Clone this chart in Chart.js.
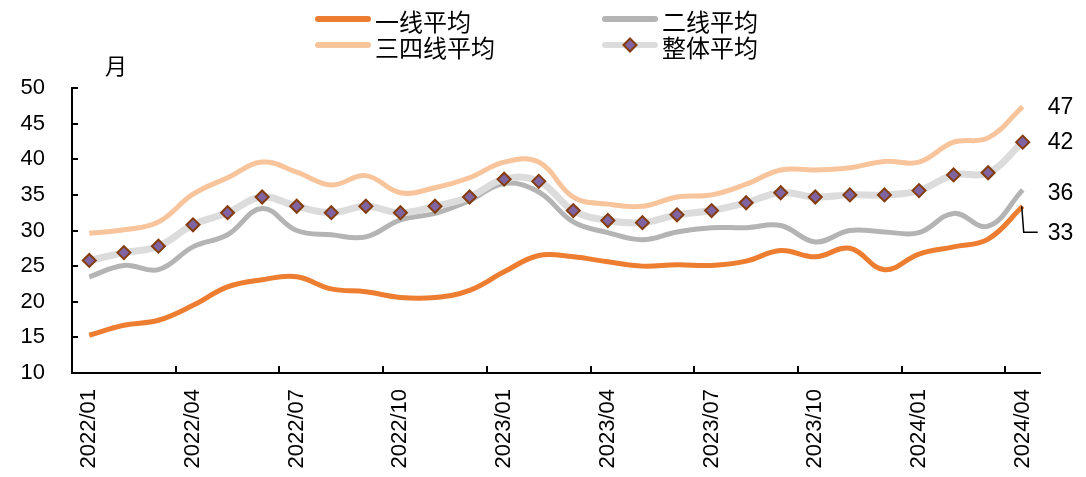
<!DOCTYPE html>
<html>
<head>
<meta charset="utf-8">
<script src="https://cdn.jsdelivr.net/npm/chart.js@4/dist/chart.umd.min.js"></script>
<style>
html,body{margin:0;padding:0;background:#fff;}
#wrap{position:relative;width:1086px;height:477px;}
</style>
</head>
<body>
<div id="wrap"><canvas id="c" width="1086" height="477"></canvas></div>
<script>
const categories = ['2022/01','2022/02','2022/03','2022/04','2022/05','2022/06','2022/07','2022/08','2022/09','2022/10','2022/11','2022/12',
  '2023/01','2023/02','2023/03','2023/04','2023/05','2023/06','2023/07','2023/08','2023/09','2023/10','2023/11','2023/12',
  '2024/01','2024/02','2024/03','2024/04'];
const seriesNames = ['一线平均','二线平均','三四线平均','整体平均'];
const tier1 = [15.3,16.7,17.4,19.5,22.1,23.1,23.5,21.8,21.4,20.6,20.6,21.6,24.2,26.5,26.3,25.6,25.0,25.2,25.1,25.7,27.2,26.3,27.5,24.5,26.7,27.7,28.8,33.4];
const tier2 = [23.5,25.1,24.5,27.7,29.4,33.1,30.0,29.4,29.1,31.5,32.4,34.2,36.6,35.4,31.2,29.7,28.7,29.8,30.4,30.4,30.7,28.4,30.0,29.8,29.7,32.4,30.6,35.7];
const tier34 = [29.6,30.1,31.2,35.1,37.4,39.6,38.2,36.4,37.7,35.3,36.0,37.4,39.6,39.6,34.7,33.7,33.4,34.7,35.0,36.5,38.5,38.5,38.8,39.7,39.6,42.4,43.0,47.4];
const overall = [25.8,26.9,27.8,30.8,32.5,34.7,33.4,32.5,33.4,32.5,33.4,34.7,37.2,36.9,32.8,31.4,31.1,32.2,32.8,33.9,35.3,34.7,35.0,35.0,35.6,37.8,38.1,42.4];
const yTicks = [10,15,20,25,30,35,40,45,50];
const yUnit = '月';

const C1 = '#ED7D31', C2 = '#B4B4B4', C34 = '#F8C49C', CALL = '#DCDCDC', DFILL = '#8064A2', DBORDER = '#843C0C';
const NUM_FONT = '"Liberation Sans", Arial, sans-serif';
const CJK_FONT = '"Noto Sans CJK SC", "Noto Sans", sans-serif';

const decor = {
  id: 'decor',
  afterDraw(chart) {
    const ctx = chart.ctx;
    const xs = chart.scales.x, ys = chart.scales.y;
    const area = chart.chartArea;
    ctx.save();
    // inner tick marks
    ctx.strokeStyle = '#000'; ctx.lineWidth = 2;
    yTicks.forEach(v => {
      const y = Math.round(ys.getPixelForValue(v));
      ctx.beginPath(); ctx.moveTo(area.left, y); ctx.lineTo(area.left + 6, y); ctx.stroke();
    });
    const half = (xs.getPixelForValue(1) - xs.getPixelForValue(0)) / 2;
    categories.forEach((c, i) => {
      if (i > 0 && i % 3 === 0) {
        const x = Math.round(xs.getPixelForValue(i) - half);
        ctx.beginPath(); ctx.moveTo(x, area.bottom); ctx.lineTo(x, area.bottom - 7); ctx.stroke();
      }
    });
    // unit label
    ctx.fillStyle = '#000';
    ctx.font = '22px ' + CJK_FONT;
    ctx.textAlign = 'center'; ctx.textBaseline = 'middle';
    ctx.fillText(yUnit, 116, 66);
    // end labels
    const offsets = [26, 3, 0, 0];
    const dsIdx = {0: 1, 1: 2, 2: 3, 3: 0}; // series index -> dataset index
    ctx.font = '23px ' + NUM_FONT;
    ctx.textAlign = 'left';
    [0, 1, 2, 3].forEach(s => {
      const meta = chart.getDatasetMeta(dsIdx[s]);
      const pt = meta.data[meta.data.length - 1];
      const vals = [tier1, tier2, tier34, overall][s];
      const txt = String(Math.round(vals[vals.length - 1]));
      const ty = pt.y + offsets[s];
      ctx.fillText(txt, pt.x + 25, ty + 1);
      if (s === 0) {
        ctx.strokeStyle = '#000'; ctx.lineWidth = 1.5;
        ctx.beginPath(); ctx.moveTo(pt.x - 1, pt.y); ctx.lineTo(pt.x + 1, ty); ctx.lineTo(pt.x + 15, ty); ctx.stroke();
      }
    });
    // legend
    const leg = [
      {name: seriesNames[0], color: C1, x: 315, y: 19},
      {name: seriesNames[1], color: C2, x: 602, y: 19},
      {name: seriesNames[2], color: C34, x: 315, y: 45},
      {name: seriesNames[3], color: CALL, x: 602, y: 45, diamond: true}
    ];
    ctx.font = '24px ' + CJK_FONT;
    ctx.textBaseline = 'middle'; ctx.textAlign = 'left';
    leg.forEach(l => {
      ctx.strokeStyle = l.color; ctx.lineWidth = 6; ctx.lineCap = 'round';
      ctx.beginPath(); ctx.moveTo(l.x + 3, l.y); ctx.lineTo(l.x + 53, l.y); ctx.stroke();
      if (l.diamond) {
        ctx.lineCap = 'butt';
        ctx.fillStyle = DFILL; ctx.strokeStyle = DBORDER; ctx.lineWidth = 2;
        const cx = l.x + 28, cy = l.y, r = 6.5;
        ctx.beginPath(); ctx.moveTo(cx, cy - r); ctx.lineTo(cx + r, cy); ctx.lineTo(cx, cy + r); ctx.lineTo(cx - r, cy); ctx.closePath();
        ctx.fill(); ctx.stroke();
      }
      ctx.fillStyle = '#000';
      ctx.fillText(l.name, l.x + 60, l.y + 3);
    });
    ctx.restore();
  }
};

new Chart(document.getElementById('c'), {
  type: 'line',
  data: {
    labels: categories,
    datasets: [
      {label: seriesNames[3], data: overall, borderColor: CALL, borderWidth: 7, pointStyle: 'rectRot', pointRadius: 6.5,
       pointBackgroundColor: DFILL, pointBorderColor: DBORDER, pointBorderWidth: 2, tension: 0.4, fill: false},
      {label: seriesNames[0], data: tier1, borderColor: C1, borderWidth: 5, pointRadius: 0, tension: 0.4, fill: false},
      {label: seriesNames[1], data: tier2, borderColor: C2, borderWidth: 5, pointRadius: 0, tension: 0.4, fill: false},
      {label: seriesNames[2], data: tier34, borderColor: C34, borderWidth: 5, pointRadius: 0, tension: 0.4, fill: false}
    ]
  },
  options: {
    responsive: false,
    animation: false,
    layout: {padding: {top: 88, right: 46, left: 0, bottom: 0}},
    plugins: {legend: {display: false}, tooltip: {enabled: false}},
    scales: {
      x: {
        offset: true,
        grid: {display: false, drawTicks: false, offset: true},
        border: {display: true, color: '#000', width: 2},
        ticks: {
          autoSkip: false, maxRotation: 90, minRotation: 90, padding: 16,
          color: '#000', font: {family: NUM_FONT, size: 22},
          callback: function(v, i) { return i % 3 === 0 ? categories[i] : ''; }
        },
        afterFit: s => { s.height = 104; }
      },
      y: {
        min: 10, max: 50,
        grid: {display: false, drawTicks: false},
        border: {display: true, color: '#000', width: 2},
        ticks: {stepSize: 5, padding: 27, color: '#000', font: {family: NUM_FONT, size: 22}},
        afterFit: s => { s.width = 72; }
      }
    }
  },
  plugins: [decor]
});
</script>
</body>
</html>
